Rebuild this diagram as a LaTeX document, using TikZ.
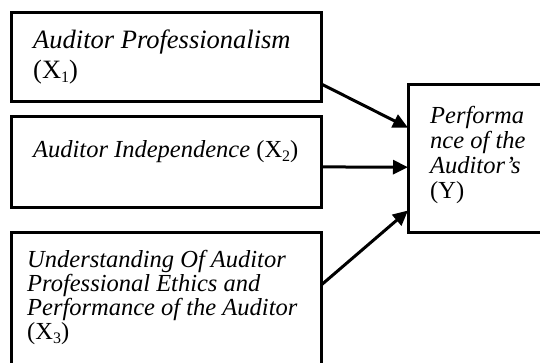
\documentclass[tikz,border=0pt]{standalone}
\usepackage{fontspec}
\setmainfont{Liberation Serif}
\usetikzlibrary{arrows.meta}
\newcommand\subidx[1]{\raisebox{-0.18em}{\fontsize{16}{16}\selectfont #1}}
\begin{document}
\begin{tikzpicture}[x=1pt,y=-1pt,
  box/.style={draw=black, line width=3pt, rectangle, inner sep=0pt, outer sep=0pt, anchor=north west},
  lbl/.style={anchor=base west, inner sep=0pt, align=left, font=\fontsize{24.5}{24}\selectfont\itshape},
  bigl/.style={lbl, font=\fontsize{26.5}{30}\selectfont\itshape},
  ylbl/.style={lbl, font=\fontsize{24.5}{25}\selectfont\itshape},
  arr/.style={line width=3pt, -{Triangle[length=15pt,width=14pt]}}]
\useasboundingbox (0,0) rectangle (540,362);
\clip (0,0) rectangle (540,362);
% boxes
\node[box, minimum width=310pt, minimum height=89pt] (b1) at (11,12) {};
\node[box, minimum width=310pt, minimum height=91pt] (b2) at (11,116) {};
\node[box, minimum width=310pt, minimum height=150pt] (b3) at (11,232) {};
\node[box, minimum width=150pt, minimum height=148pt] (y) at (408,84) {};
% texts (anchored at the baseline of the last line)
\node[bigl] (t1) at (33,78) {Auditor Professionalism\\{\upshape (X\subidx{1})}};
\node[lbl] (t2) at (33,157) {Auditor Independence {\upshape (X\subidx{2})}};
\node[lbl] (t3) at (27,339) {Understanding Of Auditor\\Professional Ethics and\\Performance of the Auditor\\{\upshape (X\subidx{3})}};
\node[ylbl] (ty) at (430,198) {Performa\\nce of the\\Auditor’s\\{\upshape (Y)}};
% arrows
\draw[arr] (b1.-10) -- (y.158.2);
\draw[arr] (b2.-2.4) -- (y.187.6);
\draw[arr] (b3.8.8) -- (y.215.8);
\end{tikzpicture}
\end{document}
